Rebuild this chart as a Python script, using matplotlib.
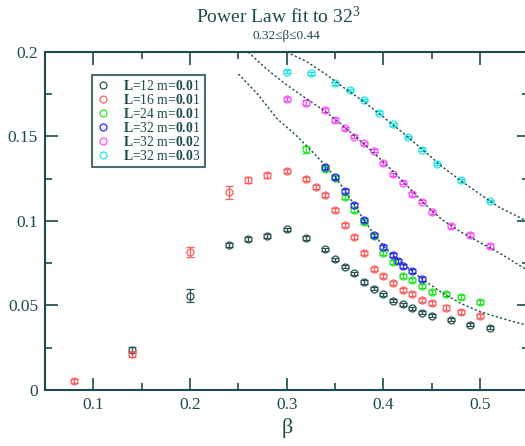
import matplotlib
matplotlib.use("Agg")
import matplotlib.pyplot as plt
from matplotlib.lines import Line2D

plt.rcParams['font.family'] = ['Liberation Serif', 'DejaVu Serif']
plt.rcParams['mathtext.fontset'] = 'custom'
plt.rcParams['mathtext.rm'] = 'Liberation Serif'
plt.rcParams['mathtext.bf'] = 'Liberation Serif:bold'
plt.rcParams['mathtext.it'] = 'Liberation Serif:italic'

INK = '#1d4b4b'

# L=12, m=0.01
beta_L12 = [0.14, 0.20, 0.24, 0.26, 0.28, 0.30, 0.32, 0.34, 0.35, 0.36, 0.37,
            0.38, 0.39, 0.40, 0.41, 0.42, 0.43, 0.44, 0.45, 0.47, 0.49, 0.51]
val_L12 = [0.0237, 0.0558, 0.0858, 0.0893, 0.0911, 0.0951, 0.0899, 0.0832, 0.0773, 0.0730, 0.0690,
           0.0640, 0.0600, 0.0566, 0.0528, 0.0506, 0.0484, 0.0458, 0.0439, 0.0416, 0.0387, 0.0369]
err_L12 = [0.0015, 0.004] + [0.001] * 20

# L=16, m=0.01
beta_L16 = [0.08, 0.14, 0.20, 0.24, 0.26, 0.28, 0.30, 0.32, 0.33, 0.34, 0.35, 0.36,
            0.37, 0.38, 0.39, 0.40, 0.41, 0.42, 0.43, 0.44, 0.45, 0.465, 0.48, 0.50]
val_L16 = [0.0053, 0.0211, 0.0815, 0.1170, 0.1240, 0.1270, 0.1296, 0.1247, 0.1203, 0.1156, 0.1063, 0.0976,
           0.0907, 0.0813, 0.0714, 0.0675, 0.0633, 0.0594, 0.0568, 0.0535, 0.0513, 0.0488, 0.0464, 0.0436]
err_L16 = [0.001, 0.0015, 0.003, 0.004, 0.0018, 0.0015] + [0.0012] * 18

# L=24, m=0.01
beta_L24 = [0.32, 0.34, 0.35, 0.36, 0.37, 0.38, 0.39, 0.40, 0.41, 0.42, 0.43,
            0.44, 0.45, 0.465, 0.48, 0.50]
val_L24 = [0.1424, 0.1310, 0.1252, 0.1144, 0.1065, 0.0995, 0.0911, 0.0813, 0.0755, 0.0675, 0.0650,
           0.0615, 0.0582, 0.0570, 0.0548, 0.0520]
err_L24 = [0.002] + [0.0012] * 15

# L=32, m=0.01
beta_L32 = [0.34, 0.35, 0.36, 0.37, 0.38, 0.39, 0.40, 0.41, 0.415, 0.42, 0.43, 0.44]
val_L32 = [0.1320, 0.1260, 0.1180, 0.1095, 0.1006, 0.0917, 0.0846, 0.0797, 0.0765, 0.0732, 0.0703, 0.0657]
err_L32 = [0.0012] * 12

# L=32, m=0.02
beta_m002 = [0.30, 0.32, 0.34, 0.35, 0.36, 0.37, 0.38, 0.39, 0.40, 0.41, 0.42,
             0.43, 0.44, 0.45, 0.47, 0.49, 0.51]
val_m002 = [0.1720, 0.1700, 0.1657, 0.1598, 0.1548, 0.1499, 0.1460, 0.1416, 0.1341, 0.1276, 0.1227,
            0.1160, 0.1114, 0.1053, 0.0970, 0.0917, 0.0852]
err_m002 = [0.0012, 0.0015] + [0.001] * 15

# L=32, m=0.03
beta_m003 = [0.30, 0.325, 0.35, 0.365, 0.38, 0.395, 0.41, 0.425, 0.44, 0.455, 0.48, 0.51]
val_m003 = [0.1884, 0.1873, 0.1814, 0.1775, 0.1716, 0.1640, 0.1572, 0.1497, 0.1422, 0.1337, 0.1241, 0.1118]
err_m003 = [0.0008] * 12

# power law fit curves for the 32^3 lattice
fit_beta_m001 = [0.25, 0.27, 0.29, 0.31, 0.33, 0.35, 0.36, 0.37, 0.38, 0.39, 0.40,
                 0.41, 0.42, 0.43, 0.44, 0.46, 0.48, 0.50, 0.52, 0.55]
fit_val_m001 = [0.187, 0.175, 0.1605, 0.1505, 0.1390, 0.1262, 0.1180, 0.1095, 0.1005, 0.0922, 0.0852,
                0.0797, 0.0748, 0.0702, 0.0657, 0.0577, 0.0512, 0.0463, 0.0428, 0.0380]
fit_beta_m002 = [0.26, 0.28, 0.30, 0.32, 0.34, 0.36, 0.38, 0.40, 0.42, 0.44, 0.46,
                 0.48, 0.50, 0.52, 0.55]
fit_val_m002 = [0.2000, 0.1895, 0.1805, 0.1725, 0.1648, 0.1555, 0.1455, 0.1350, 0.1235, 0.1115, 0.1010,
                0.0935, 0.0872, 0.0810, 0.0705]
fit_beta_m003 = [0.30, 0.32, 0.34, 0.36, 0.38, 0.40, 0.42, 0.44, 0.46, 0.48, 0.50, 0.52, 0.55]
fit_val_m003 = [0.2000, 0.1945, 0.1870, 0.1785, 0.1705, 0.1615, 0.1522, 0.1425, 0.1325, 0.1238, 0.1158,
                0.1080, 0.0995]

series = [
    (beta_L12, val_L12, err_L12, '#2b5252', r'$\mathbf{L}$=12 m=$\mathbf{0.0}$1'),
    (beta_L16, val_L16, err_L16, '#ff5c5c', r'$\mathbf{L}$=16 m=$\mathbf{0.0}$1'),
    (beta_L24, val_L24, err_L24, '#22e822', r'$\mathbf{L}$=24 m=$\mathbf{0.0}$1'),
    (beta_L32, val_L32, err_L32, '#2a2aff', r'$\mathbf{L}$=32 m=$\mathbf{0.0}$1'),
    (beta_m002, val_m002, err_m002, '#ff4cff', r'$\mathbf{L}$=32 m=$\mathbf{0.0}$2'),
    (beta_m003, val_m003, err_m003, '#1ee6e6', r'$\mathbf{L}$=32 m=$\mathbf{0.0}$3'),
]

fig = plt.figure(figsize=(5.25, 4.46), dpi=100)
ax = fig.add_axes([0.0857, 0.1256, 0.921, 0.7578])

for b, v in [(fit_beta_m001, fit_val_m001),
             (fit_beta_m002, fit_val_m002),
             (fit_beta_m003, fit_val_m003)]:
    ax.plot(b, v, color=INK, lw=1.0, linestyle=(0, (1.6, 1.6)), zorder=3)

handles = []
for b, v, e, c, lbl in series:
    ax.errorbar(b, v, yerr=e, fmt='o', ms=5, mfc='none', mec=c, mew=0.9,
                ecolor=c, elinewidth=0.9, capsize=3, capthick=0.9, zorder=2)
    handles.append(Line2D([], [], ls='none', marker='o', ms=5, mfc='none',
                          mec=c, mew=0.9, label=lbl))

ax.set_xlim(0.05, 0.55)
ax.set_ylim(0, 0.2)
ax.set_xticks([0.1, 0.2, 0.3, 0.4, 0.5])
ax.set_xticks([0.15, 0.25, 0.35, 0.45], minor=True)
ax.set_yticks([0, 0.05, 0.1, 0.15, 0.2])
ax.set_yticks([0.025, 0.075, 0.125, 0.175], minor=True)
ax.set_xticklabels(['0.1', '0.2', '0.3', '0.4', '0.5'])
ax.set_yticklabels(['0', '0.05', '0.1', '0.15', '0.2'])
ax.tick_params(which='both', direction='in', top=True, right=True,
               color=INK, labelcolor=INK, labelsize=12.5, width=1.2)
ax.tick_params(which='major', length=9, pad=5)
ax.tick_params(which='minor', length=5)
for s in ax.spines.values():
    s.set_color(INK)
    s.set_linewidth(1.5)

ax.set_xlabel('β', fontsize=16, color=INK, labelpad=4)
fig.text(0.53, 0.962, r'Power Law fit to 32$^{3}$', ha='center', va='center',
         fontsize=14, color=INK)
fig.text(0.545, 0.92, '0.32≤β≤0.44', ha='center', va='center',
         fontsize=9.5, color=INK)

leg = ax.legend(handles=handles, loc='upper left', bbox_to_anchor=(0.097, 0.932),
                fontsize=9.8, frameon=True, fancybox=False, borderaxespad=0,
                handlelength=1.0, handletextpad=1.0, labelspacing=0.0,
                borderpad=0.3, labelcolor=INK)
leg.get_frame().set_edgecolor(INK)
leg.get_frame().set_linewidth(1.5)

fig.savefig('out.png', dpi=100)
